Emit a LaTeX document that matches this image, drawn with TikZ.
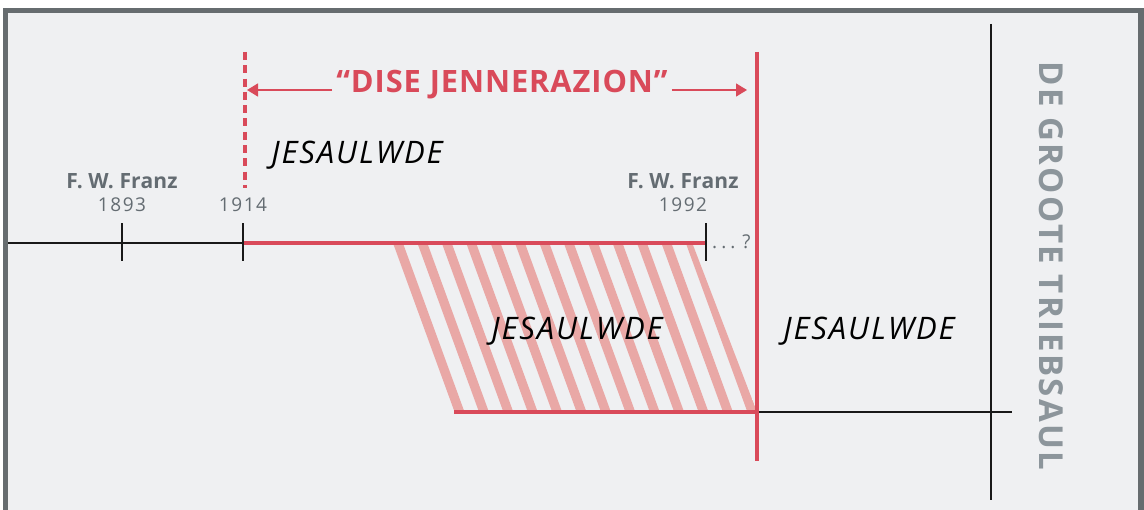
\documentclass[tikz,border=0pt]{standalone}
\usepackage{fontspec}
\setmainfont{Open Sans}
\usetikzlibrary{arrows.meta}
\definecolor{bgc}{HTML}{EFF0F2}
\definecolor{framec}{HTML}{666C6F}
\definecolor{redc}{HTML}{D94A5A}
\definecolor{pinkc}{HTML}{E9A8A6}
\definecolor{labc}{HTML}{646C72}
\definecolor{vertc}{HTML}{8C959B}
\tikzset{
  blackline/.style={draw=black!90, line width=2pt},
  redline/.style={draw=redc, line width=4pt},
  tickline/.style={draw=black!90, line width=2pt},
  namelab/.style={font=\bfseries\fontsize{21}{24}\selectfont\addfontfeatures{LetterSpace=1}, text=labc, inner sep=0pt},
  yearlab/.style={font=\fontsize{19}{24}\selectfont\addfontfeatures{LetterSpace=8}, text=labc, inner sep=0pt},
  eralab/.style={font=\itshape\fontsize{31}{34}\selectfont\addfontfeatures{LetterSpace=6}, text=black, inner sep=0pt},
  arrowline/.style={draw=redc, line width=1.5pt, -{Triangle[length=11pt,width=13pt]}},
}
\begin{document}
\begin{tikzpicture}[x=1pt,y=-1pt]
\useasboundingbox (0,0) rectangle (1144,510);
% frame
\fill[framec] (3,8) rectangle (1144,510);
\fill[bgc] (8,13) rectangle (1138,510);
% coordinates
\coordinate (tl0) at (8,243);
\coordinate (t1893) at (122,243);
\coordinate (t1914) at (243,243);
\coordinate (t1992) at (706,243);
\coordinate (rtop) at (757,52);
\coordinate (rbot) at (757,461);
\coordinate (dtop) at (245,52);
\coordinate (dbot) at (245,188);
\coordinate (bl0) at (454,412);
\coordinate (bl1) at (757,412);
\coordinate (bl2) at (1012,412);
\coordinate (vtop) at (991,24);
\coordinate (vbot) at (991,500);
% hatch
\begin{scope}
\clip (390,245) -- (693,245) -- (757,412) -- (454,412) -- cycle;
\foreach \k in {0,...,13}{
  \draw[pinkc, line width=9.3pt] ({395+24.4*\k},235) -- ({395+24.4*\k+68.2},412+10);
}
\end{scope}
% timeline
\draw[blackline] (tl0) -- (t1914);
\draw[redline] (t1914) -- (t1992);
\draw[redline] (bl0) -- (bl1);
\draw[blackline] (bl1) -- (bl2);
\draw[blackline] (vtop) -- (vbot);
\foreach \c in {t1893,t1914,t1992}{
  \draw[tickline] ([yshift=-18pt]\c) -- ([yshift=20pt]\c);
}
% verticals
\draw[draw=redc, line width=4pt, dash pattern=on 8pt off 5.3pt] (dtop) -- (dbot);
\draw[draw=redc, line width=3.5pt] (rtop) -- (rbot);
% title
\node[font=\bfseries\fontsize{30.8}{34}\selectfont\addfontfeatures{LetterSpace=3}, text=redc, inner sep=0pt] (title) at (502,85) {“DISE JENNERAZION”};
\coordinate (la) at ([xshift=-4pt]title.west |- 0,90);
\coordinate (ra) at ([xshift=4pt]title.east |- 0,90);
\draw[arrowline] (la) -- ([xshift=2pt]dtop |- la);
\draw[arrowline] (ra) -- ([xshift=-10pt]rtop |- ra);
% labels
\node[namelab] (n1) at (122,181) {F. W. Franz};
\node[yearlab] (y1) at (122,205) {1893};
\node[yearlab] (y2) at (243,205) {1914};
\node[namelab] (n2) at (683,181) {F. W. Franz};
\node[yearlab] (y3) at (683,205) {1992};
\node[yearlab, anchor=west] (q) at (712,242) {.\hspace{4pt}.\hspace{4pt}.\hspace{7pt}?};
\node[eralab] (e1) at (357,155) {JESAULWDE};
\node[eralab] (e2) at (577,331) {JESAULWDE};
\node[eralab] (e3) at (869,331) {JESAULWDE};
\node[rotate=-90, font=\bfseries\fontsize{33}{36}\selectfont\addfontfeatures{LetterSpace=7}, text=vertc, inner sep=0pt] (gt) at (1051,266) {DE GROOTE TRIEBSAUL};
\end{tikzpicture}
\end{document}
